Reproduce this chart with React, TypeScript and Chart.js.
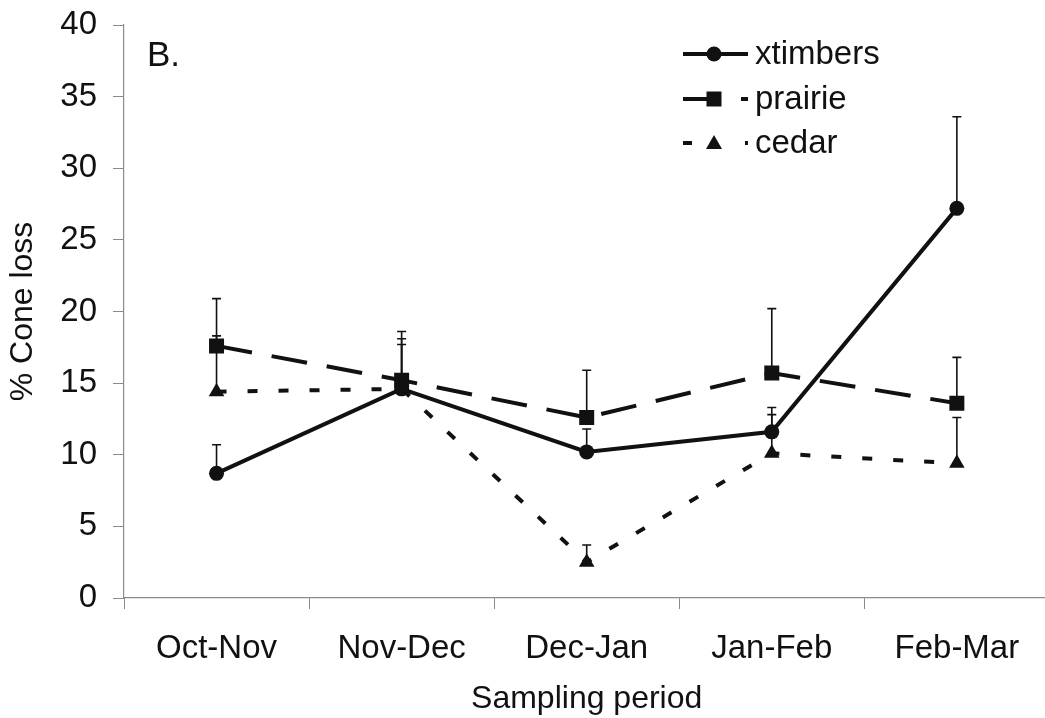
import React, { useEffect, useRef } from "react";
import { Chart, registerables } from "chart.js";

Chart.register(...registerables);

// Sampling periods along the x axis
const categories = ["Oct-Nov", "Nov-Dec", "Dec-Jan", "Jan-Feb", "Feb-Mar"];

// Mean % cone loss per habitat, with the upper error bar (SE) for each
const xtimbers = [8.7, 14.6, 10.2, 11.6, 27.2];
const xtimbersErr = [2.0, 3.1, 1.6, 1.2, 6.4];
const prairie = [17.6, 15.2, 12.6, 15.7, 13.6];
const prairieErr = [3.3, 3.4, 3.3, 4.5, 3.2];
const cedar = [14.4, 14.6, 2.5, 10.1, 9.4];
const cedarErr = [3.9, 3.5, 1.2, 3.2, 3.2];

// Y axis range and tick step
const yMin = 0;
const yMax = 40;
const yStep = 5;

const seriesNames = ["xtimbers", "prairie", "cedar"];
const panelLabel = "B.";
const xTitle = "Sampling period";
const yTitle = "% Cone loss";

const FONT = "'Liberation Sans', Arial, Helvetica, sans-serif";
const INK = "#111111";
const AXIS = "#8a8a8a";

const CANVAS_W = 1060;
const CANVAS_H = 718;

const errorArrays = [xtimbersErr, prairieErr, cedarErr];

// Upward-only error bars with small caps, drawn beneath the markers
const errorBarPlugin = {
  id: "upperErrorBars",
  beforeDatasetsDraw(chart: any) {
    const { ctx, scales } = chart;
    const y = scales.y;
    ctx.save();
    ctx.strokeStyle = INK;
    ctx.lineWidth = 1.6;
    ctx.setLineDash([]);
    chart.data.datasets.forEach((ds: any, di: number) => {
      const meta = chart.getDatasetMeta(di);
      const errs = errorArrays[di];
      meta.data.forEach((pt: any, i: number) => {
        const e = errs[i];
        if (!e) return;
        const px = pt.x;
        const y0 = y.getPixelForValue(ds.data[i]);
        const y1 = y.getPixelForValue(ds.data[i] + e);
        ctx.beginPath();
        ctx.moveTo(px, y0);
        ctx.lineTo(px, y1);
        ctx.moveTo(px - 4.5, y1);
        ctx.lineTo(px + 4.5, y1);
        ctx.stroke();
      });
    });
    ctx.restore();
  },
};

function drawMarker(ctx: CanvasRenderingContext2D, style: string, x: number, y: number) {
  ctx.beginPath();
  if (style === "circle") {
    ctx.arc(x, y, 7.5, 0, Math.PI * 2);
  } else if (style === "rect") {
    ctx.rect(x - 7.5, y - 7.5, 15, 15);
  } else {
    ctx.moveTo(x, y - 8);
    ctx.lineTo(x + 8, y + 6);
    ctx.lineTo(x - 8, y + 6);
    ctx.closePath();
  }
  ctx.fill();
}

// Legend with line samples inside the plot, plus the panel letter
const annotationPlugin = {
  id: "panelLegend",
  afterDraw(chart: any) {
    const { ctx } = chart;
    ctx.save();
    ctx.fillStyle = INK;
    ctx.strokeStyle = INK;
    ctx.lineWidth = 4;

    // panel letter
    ctx.font = `35px ${FONT}`;
    ctx.textBaseline = "alphabetic";
    ctx.textAlign = "left";
    ctx.fillText(panelLabel, 147, 66);

    const x0 = 683;
    const xm = 714;
    const x1 = 748;
    const rows = [54, 99, 143];
    const styles = ["circle", "rect", "triangle"];

    // xtimbers: solid sample
    ctx.beginPath();
    ctx.moveTo(x0, rows[0]);
    ctx.lineTo(x1, rows[0]);
    ctx.stroke();

    // prairie: long dash, gap, short dash
    ctx.beginPath();
    ctx.moveTo(x0, rows[1]);
    ctx.lineTo(xm, rows[1]);
    ctx.moveTo(741, rows[1]);
    ctx.lineTo(x1, rows[1]);
    ctx.stroke();

    // cedar: short dashes
    ctx.beginPath();
    ctx.moveTo(x0, rows[2]);
    ctx.lineTo(692, rows[2]);
    ctx.moveTo(745, rows[2]);
    ctx.lineTo(748, rows[2]);
    ctx.stroke();

    styles.forEach((s, i) => drawMarker(ctx, s, xm, rows[i]));

    ctx.font = `33px ${FONT}`;
    ctx.textBaseline = "middle";
    seriesNames.forEach((name, i) => ctx.fillText(name, 755, rows[i] + 1));
    ctx.restore();
  },
};

export default function App() {
  const canvasRef = useRef<HTMLCanvasElement | null>(null);

  useEffect(() => {
    document.body.style.margin = "0";
    document.body.style.overflow = "hidden";
    const canvas = canvasRef.current;
    if (!canvas) return;

    const chart = new Chart(canvas, {
      type: "line",
      data: {
        labels: categories,
        datasets: [
          {
            label: seriesNames[0],
            data: xtimbers,
            borderColor: INK,
            backgroundColor: INK,
            borderWidth: 4,
            pointStyle: "circle",
            pointRadius: 7.5,
            pointBorderWidth: 0,
            tension: 0,
          },
          {
            label: seriesNames[1],
            data: prairie,
            borderColor: INK,
            backgroundColor: INK,
            borderWidth: 4,
            borderDash: [36, 20],
            pointStyle: "rect",
            pointRadius: 10.6,
            pointBorderWidth: 0,
            tension: 0,
          },
          {
            label: seriesNames[2],
            data: cedar,
            borderColor: INK,
            backgroundColor: INK,
            borderWidth: 4,
            borderDash: [10, 21],
            pointStyle: "triangle",
            pointRadius: 9,
            pointBorderWidth: 0,
            tension: 0,
          },
        ],
      },
      options: {
        animation: false,
        responsive: false,
        devicePixelRatio: 1,
        layout: { padding: { top: 25, right: 5, left: 0, bottom: 0 } },
        plugins: {
          legend: { display: false },
          tooltip: { enabled: false },
          title: { display: false },
        },
        scales: {
          x: {
            type: "category",
            offset: true,
            grid: {
              offset: true,
              drawOnChartArea: false,
              drawTicks: true,
              tickLength: 11,
              color: AXIS,
            },
            border: { display: true, color: AXIS, width: 1.2 },
            ticks: {
              color: INK,
              font: { family: FONT, size: 33 },
              padding: 20,
              maxRotation: 0,
              autoSkip: false,
            },
            title: {
              display: true,
              text: xTitle,
              color: INK,
              font: { family: FONT, size: 32 },
              padding: 0,
            },
            afterFit(scale: any) {
              scale.height = 120;
              scale.paddingLeft = 0;
              scale.paddingRight = 0;
            },
          },
          y: {
            min: yMin,
            max: yMax,
            grid: {
              drawOnChartArea: false,
              drawTicks: true,
              tickLength: 11,
              color: AXIS,
            },
            border: { display: true, color: AXIS, width: 1.2 },
            ticks: {
              stepSize: yStep,
              color: INK,
              font: { family: FONT, size: 33 },
              padding: 16,
            },
            title: {
              display: true,
              text: yTitle,
              color: INK,
              font: { family: FONT, size: 32 },
              padding: 4,
            },
            afterFit(scale: any) {
              scale.width = 124;
              scale.paddingTop = 0;
              scale.paddingBottom = 0;
            },
          },
        },
      },
      plugins: [errorBarPlugin, annotationPlugin],
    });

    return () => chart.destroy();
  }, []);

  return (
    <div style={{ width: `${CANVAS_W}px`, height: `${CANVAS_H}px`, overflow: "hidden" }}>
      <canvas
        ref={canvasRef}
        width={CANVAS_W}
        height={CANVAS_H}
        style={{ display: "block", width: `${CANVAS_W}px`, height: `${CANVAS_H}px` }}
      />
    </div>
  );
}
